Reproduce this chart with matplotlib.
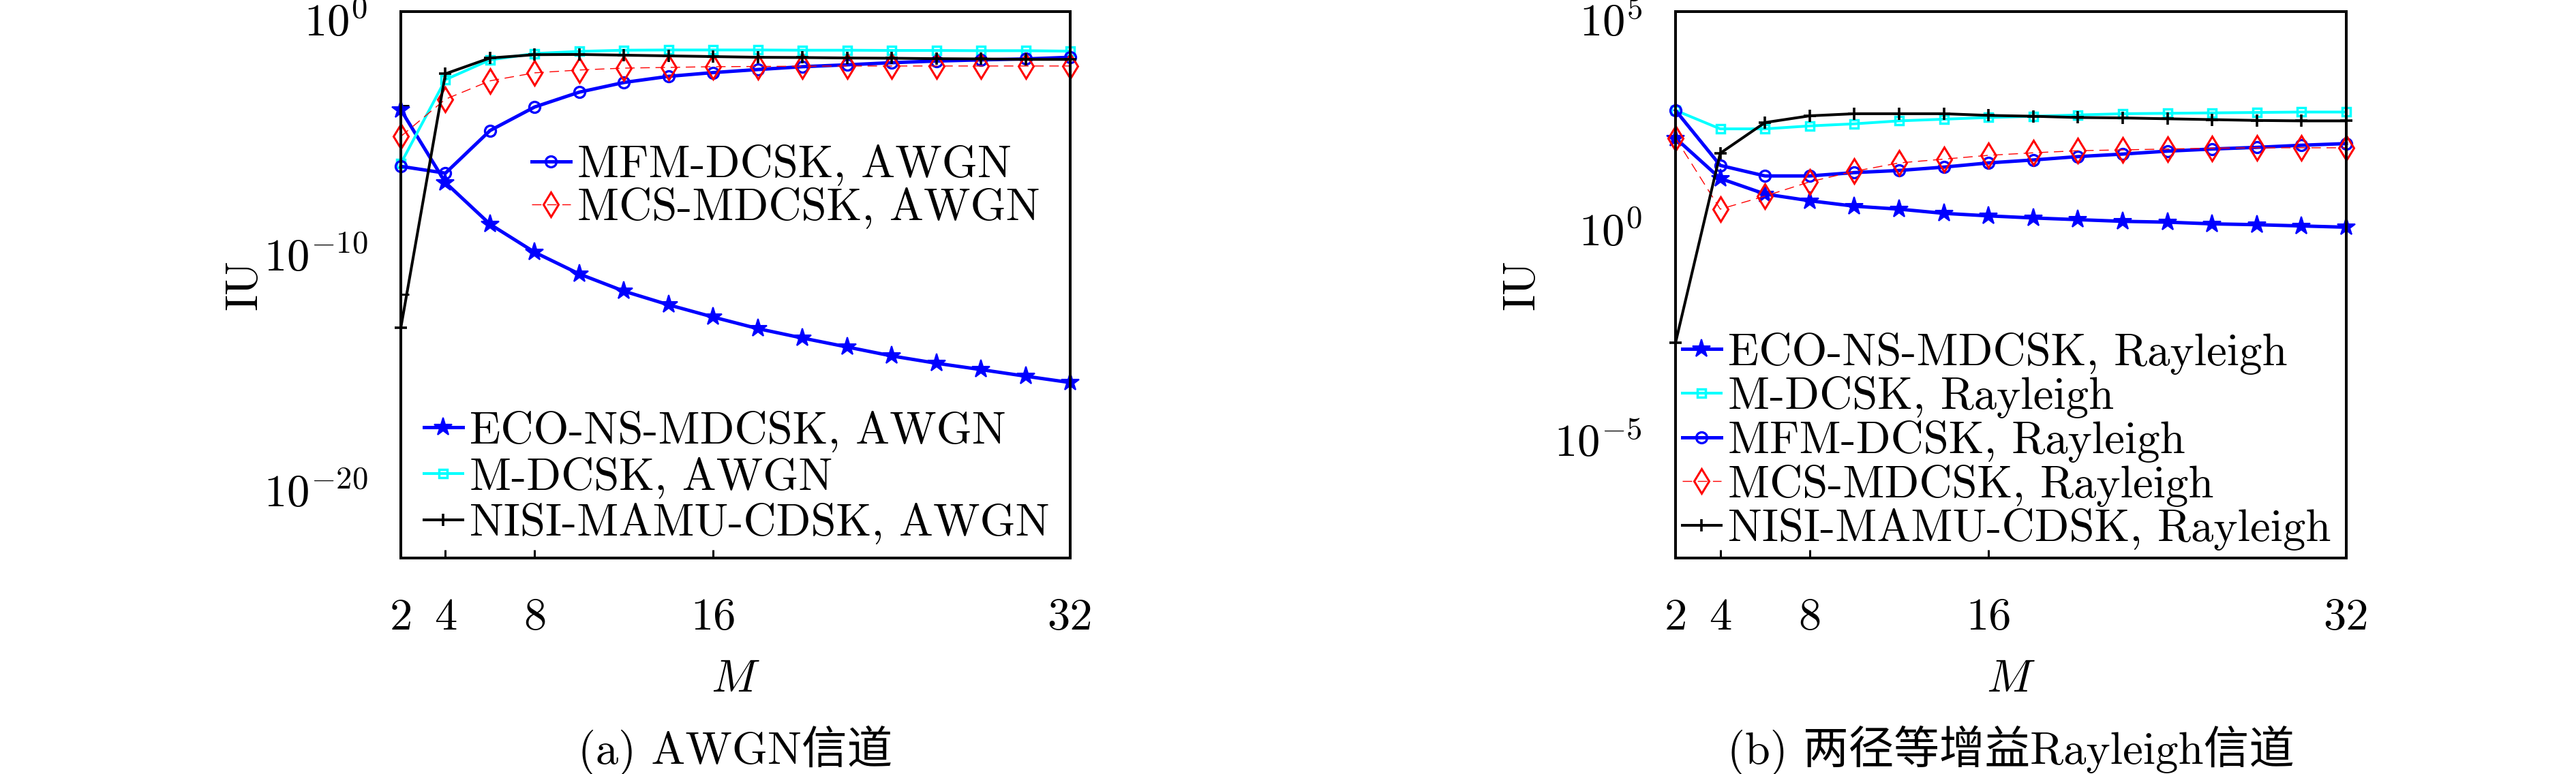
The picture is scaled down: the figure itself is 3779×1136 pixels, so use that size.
import numpy as np
import matplotlib
matplotlib.use("Agg")
import matplotlib.pyplot as plt
from matplotlib.ticker import FixedLocator, NullFormatter
from matplotlib.transforms import ScaledTranslation

plt.rcParams['font.family'] = ['cmr10', 'Noto Sans CJK SC']
plt.rcParams['mathtext.fontset'] = 'cm'
plt.rcParams['axes.unicode_minus'] = False
plt.rcParams['font.size'] = 48

# x axis: modulation order
M_values = [2, 4, 6, 8, 10, 12, 14, 16, 18, 20, 22, 24, 26, 28, 30, 32]
x_ticks = [2, 4, 8, 16, 32]

# IU values, stored as log10(IU)
# (a) AWGN channel
eco_awgn = [-4.17, -7.26, -9.03, -10.22, -11.14, -11.87, -12.45, -12.97,
            -13.46, -13.86, -14.24, -14.62, -14.93, -15.20, -15.48, -15.75]
mdcsk_awgn = [-6.45, -2.89, -2.05, -1.78, -1.69, -1.64, -1.63, -1.63,
              -1.63, -1.64, -1.64, -1.65, -1.65, -1.66, -1.66, -1.68]
mfm_awgn = [-6.57, -6.86, -5.05, -4.05, -3.42, -3.01, -2.75, -2.59,
            -2.46, -2.34, -2.26, -2.17, -2.10, -2.05, -2.01, -1.94]
mcs_awgn = [-5.30, -3.72, -2.94, -2.60, -2.48, -2.40, -2.37, -2.34,
            -2.33, -2.32, -2.31, -2.31, -2.31, -2.31, -2.31, -2.31]
nisi_awgn = [-13.43, -2.64, -1.97, -1.83, -1.82, -1.85, -1.88, -1.91,
             -1.94, -1.95, -1.97, -1.98, -2.00, -2.01, -2.03, -2.03]

# (b) two-path equal-gain Rayleigh channel
eco_ray = [1.99, 1.03, 0.66, 0.50, 0.37, 0.30, 0.20, 0.14,
           0.09, 0.05, 0.01, -0.01, -0.05, -0.07, -0.10, -0.13]
mdcsk_ray = [2.65, 2.21, 2.21, 2.28, 2.33, 2.40, 2.44, 2.48,
             2.51, 2.54, 2.57, 2.58, 2.59, 2.60, 2.61, 2.61]
mfm_ray = [2.65, 1.34, 1.09, 1.09, 1.17, 1.22, 1.30, 1.40,
           1.47, 1.55, 1.61, 1.68, 1.73, 1.77, 1.82, 1.86]
mcs_ray = [1.99, 0.30, 0.61, 0.95, 1.20, 1.40, 1.49, 1.58,
           1.64, 1.69, 1.71, 1.73, 1.75, 1.76, 1.76, 1.76]
nisi_ray = [-2.88, 1.63, 2.36, 2.52, 2.57, 2.57, 2.57, 2.53,
            2.51, 2.48, 2.47, 2.45, 2.43, 2.41, 2.40, 2.40]

schemes = ['ECO-NS-MDCSK', 'M-DCSK', 'MFM-DCSK', 'MCS-MDCSK', 'NISI-MAMU-CDSK']

styles = {
    'ECO-NS-MDCSK': dict(color='#0000ff', marker='*', ms=20, lw=3.6, mfc='#0000ff', mew=1.5),
    'M-DCSK': dict(color='#00ffff', marker='s', ms=8.5, lw=2.9, mfc='none', mew=2.5),
    'MFM-DCSK': dict(color='#0000ff', marker='o', ms=11.5, lw=3.6, mfc='none', mew=2.4),
    'MCS-MDCSK': dict(color='#ff0000', marker='d', ms=18, lw=1.0, ls=(0, (10, 6)), mfc='none', mew=2.2),
    'NISI-MAMU-CDSK': dict(color='black', marker='+', ms=13, lw=2.9, mew=2.6),
}

W, H = 3780, 1136
fig = plt.figure(figsize=(W / 100, H / 100), dpi=100)
ax_a = fig.add_axes([588 / W, 1 - 819 / H, 982 / W, 802 / H])
ax_b = fig.add_axes([2458 / W, 1 - 819 / H, 984 / W, 802 / H])


def draw_panel(ax, data, channel):
    lines = {}
    for name, vals in zip(schemes, data):
        ln, = ax.plot(M_values, 10.0 ** np.array(vals), clip_on=False,
                      label=f'{name}, {channel}', **styles[name])
        lines[name] = ln
    ax.set_yscale('log')
    ax.set_xlim(2, 32)
    ax.set_xticks(x_ticks)
    ax.set_xticklabels([str(t) for t in x_ticks])
    ax.tick_params(axis='x', direction='in', length=8.6, width=2.2, pad=42, top=False)
    for s in ax.spines.values():
        s.set_linewidth(2.9)
    ax.set_xlabel('$M$')
    ax.xaxis.set_label_coords(0.5, -0.224)
    ax.xaxis.label.set_va('center')
    ax.set_ylabel('IU')
    ax.yaxis.label.set_va('center')
    return lines


def set_y_axis(ax, ylim, label_pos, label_txt, tick_pos, ylabel_x):
    ax.set_ylim(*ylim)
    ax.yaxis.set_major_locator(FixedLocator(label_pos))
    ax.set_yticklabels(label_txt)
    ax.yaxis.set_minor_locator(FixedLocator(tick_pos))
    ax.yaxis.set_minor_formatter(NullFormatter())
    ax.tick_params(axis='y', which='major', length=0, pad=35)
    ax.tick_params(axis='y', which='minor', direction='in', length=8.6, width=2.2, right=False)
    ax.yaxis.set_label_coords(ylabel_x, 0.5)
    # labels sit a little below their decade in the original
    shift = ScaledTranslation(0, -0.11, fig.dpi_scale_trans)
    for lbl in ax.get_yticklabels():
        lbl.set_transform(lbl.get_transform() + shift)


def legend_at(ax, handles, x_px, y_px, spacing):
    return ax.legend(handles=handles, loc='center left',
                     bbox_to_anchor=(x_px / W, 1 - y_px / H), bbox_transform=fig.transFigure,
                     frameon=False, borderpad=0, borderaxespad=0, handlelength=0.85,
                     handletextpad=0.15, labelspacing=spacing, numpoints=1)


# (a) AWGN
la = draw_panel(ax_a, [eco_awgn, mdcsk_awgn, mfm_awgn, mcs_awgn, nisi_awgn], 'AWGN')
set_y_axis(ax_a, (10 ** -23.2, 1), [1e0, 1e-10, 1e-20],
           [r'$10^{0}$', r'$10^{-10}$', r'$10^{-20}$'], [1e-4, 1e-12, 1e-20], -0.233)
leg1 = legend_at(ax_a, [la['MFM-DCSK'], la['MCS-MDCSK']], 780, 274, 0.03)
ax_a.add_artist(leg1)
legend_at(ax_a, [la['ECO-NS-MDCSK'], la['M-DCSK'], la['NISI-MAMU-CDSK']], 622, 701, 0.1)

# (b) Rayleigh
lb = draw_panel(ax_b, [eco_ray, mdcsk_ray, mfm_ray, mcs_ray, nisi_ray], 'Rayleigh')
set_y_axis(ax_b, (1e-8, 1e5), [1e5, 1e0, 1e-5],
           [r'$10^{5}$', r'$10^{0}$', r'$10^{-5}$'], [1e5, 1e0, 1e-5], -0.228)
legend_at(ax_b, [lb[n] for n in schemes], 2468, 648, 0.04)

fig.text(1079 / W, 1 - 1101 / H, '(a) AWGN信道', ha='center', va='center')
fig.text(2950 / W, 1 - 1101 / H, '(b) 两径等增益Rayleigh信道', ha='center', va='center')

fig.savefig('out.png', dpi=100)
